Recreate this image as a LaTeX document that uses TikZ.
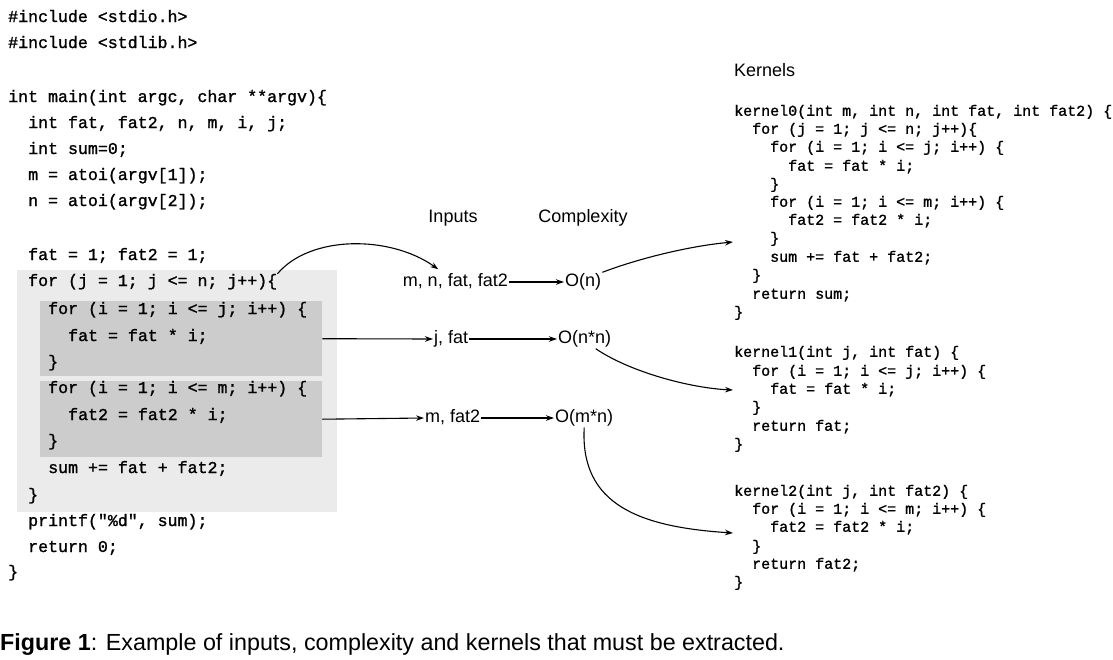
\documentclass[tikz,border=0pt]{standalone}
\usepackage{fontspec}
\setmainfont{Liberation Sans}
\setmonofont{Liberation Mono}[FakeBold=1.3]
\usetikzlibrary{arrows.meta}
\definecolor{outergray}{HTML}{EBEBEB}
\definecolor{innergray}{HTML}{CCCCCC}

\begin{document}
\begin{tikzpicture}[x=1pt,y=-1pt,
  code/.style={font=\ttfamily\fontsize{16.6}{20}\selectfont, anchor=west, inner sep=0pt, text height=12pt, text depth=4pt},
  kcode/.style={font=\ttfamily\fontsize{15}{18}\selectfont, anchor=west, inner sep=0pt, text height=11pt, text depth=3.5pt},
  lbl/.style={font=\fontsize{18}{22}\selectfont, inner sep=1pt, text height=13pt, text depth=4pt},
  arr/.style={-{Stealth[length=8pt,width=5.5pt]}, line width=1.1pt},
  loopbox/.style={anchor=north west, inner sep=0pt}]
			\useasboundingbox (0,0) rectangle (1113,659);

			% Shaded loops
			\node[loopbox, fill=outergray, minimum width=320pt, minimum height=242pt] (outerloop) at (17,270) {};
			\node[loopbox, fill=innergray, minimum width=282pt, minimum height=75pt] (loopfat) at (40,301) {};
			\node[loopbox, fill=innergray, minimum width=282pt, minimum height=76pt] (loopfattwo) at (40,381) {};

			% Original program
			\node[code] (inca) at (8,18) {\#include <stdio.h>};
			\node[code] (incb) at (8,44) {\#include <stdlib.h>};
			\node[code] (mainhd) at (8,98) {int main(int argc, char **argv)\{};
			\node[code] (decl) at (28,124) {int fat, fat2, n, m, i, j;};
			\node[code] (sumdecl) at (28,150) {int sum=0;};
			\node[code] (margv) at (28,176) {m = atoi(argv[1]);};
			\node[code] (nargv) at (28,202) {n = atoi(argv[2]);};
			\node[code] (init) at (28,256) {fat = 1; fat2 = 1;};
			\node[code] (forj) at (28,282) {for (j = 1; j <= n; j++)\{};
			\node[code] (fori) at (48,310) {for (i = 1; i <= j; i++) \{};
			\node[code] (fatmul) at (68,337) {fat = fat * i;};
			\node[code] (fatend) at (48,363) {\}};
			\node[code] (form) at (48,389) {for (i = 1; i <= m; i++) \{};
			\node[code] (fattwomul) at (68,416) {fat2 = fat2 * i;};
			\node[code] (fattwoend) at (48,442) {\}};
			\node[code] (sumadd) at (48,469) {sum += fat + fat2;};
			\node[code] (forjend) at (28,496) {\}};
			\node[code] (prnt) at (28,522) {printf("\%d", sum);};
			\node[code] (ret) at (28,548) {return 0;};
			\node[code] (mainend) at (8,573) {\}};

			% Column titles
			\node[lbl] (inputs) at (453,218) {Inputs};
			\node[lbl] (complexity) at (583,218) {Complexity};
			\node[lbl, anchor=west] (kernels) at (733,72) {Kernels};

			% Inputs and complexity
			\node[lbl, anchor=east] (in0) at (509,282) {m, n, fat, fat2};
			\node[lbl, anchor=west] (cx0) at (564,282) {O(n)};
			\node[lbl, anchor=west] (in1) at (433,339) {j, fat};
			\node[lbl, anchor=west] (cx1) at (557,339) {O(n*n)};
			\node[lbl, anchor=west] (in2) at (424,418) {m, fat2};
			\node[lbl, anchor=west] (cx2) at (554,418) {O(m*n)};

			% Kernel 0
			\node[kcode] (k0head) at (734,112) {kernel0(int m, int n, int fat, int fat2) \{};
			\node[kcode] (k0forj) at (752,130) {for (j = 1; j <= n; j++)\{};
			\node[kcode] (k0fori) at (770,148) {for (i = 1; i <= j; i++) \{};
			\node[kcode] (k0fat) at (788,167) {fat = fat * i;};
			\node[kcode] (k0fatend) at (770,185) {\}};
			\node[kcode] (k0form) at (770,203) {for (i = 1; i <= m; i++) \{};
			\node[kcode] (k0fattwo) at (788,221) {fat2 = fat2 * i;};
			\node[kcode] (k0fattwoend) at (770,239) {\}};
			\node[kcode] (k0sum) at (770,258) {sum += fat + fat2;};
			\node[kcode] (k0forjend) at (752,276) {\}};
			\node[kcode] (k0ret) at (752,295) {return sum;};
			\node[kcode] (k0end) at (734,313) {\}};

			% Kernel 1
			\node[kcode] (k1head) at (734,353) {kernel1(int j, int fat) \{};
			\node[kcode] (k1fori) at (752,372) {for (i = 1; i <= j; i++) \{};
			\node[kcode] (k1fat) at (770,390) {fat = fat * i;};
			\node[kcode] (k1foriend) at (752,408) {\}};
			\node[kcode] (k1ret) at (752,427) {return fat;};
			\node[kcode] (k1end) at (734,445) {\}};

			% Kernel 2
			\node[kcode] (k2head) at (734,492) {kernel2(int j, int fat2) \{};
			\node[kcode] (k2form) at (752,510) {for (i = 1; i <= m; i++) \{};
			\node[kcode] (k2fattwo) at (770,528) {fat2 = fat2 * i;};
			\node[kcode] (k2formend) at (752,547) {\}};
			\node[kcode] (k2ret) at (752,565) {return fat2;};
			\node[kcode] (k2end) at (734,583) {\}};

			% Arrow tips at the kernels
			\coordinate (k0tip) at (733,242);
			\coordinate (k1tip) at (733,390);
			\coordinate (k2tip) at (733,533);

			% Draw mappings
			\draw[arr] (forj.north east) .. controls (310,235) and (390,235) .. ([xshift=-17pt,yshift=3pt]in0.north);
			\draw[arr] (loopfat.east) -- (in1.west);
			\draw[arr] (loopfattwo.east) -- (in2.west);
			\draw[arr] (in0.east) -- (cx0.west);
			\draw[arr] (in1.east) -- (cx1.west);
			\draw[arr] (in2.east) -- (cx2.west);
			\draw[arr] (cx0.north east) .. controls (640,258) and (690,246) .. (k0tip);
			\draw[arr] ([xshift=11pt]cx1.south) .. controls (630,372) and (690,388) .. (k1tip);
			\draw[arr] (cx2.south) .. controls (580,505) and (640,527) .. (k2tip);

			% Caption
			\node[anchor=west, inner sep=0pt, font=\fontsize{23.3}{28}\selectfont] (caption) at (0,645) {\textbf{Figure 1}: Example of inputs, complexity and kernels that must be extracted.};
		\end{tikzpicture}
\end{document}
